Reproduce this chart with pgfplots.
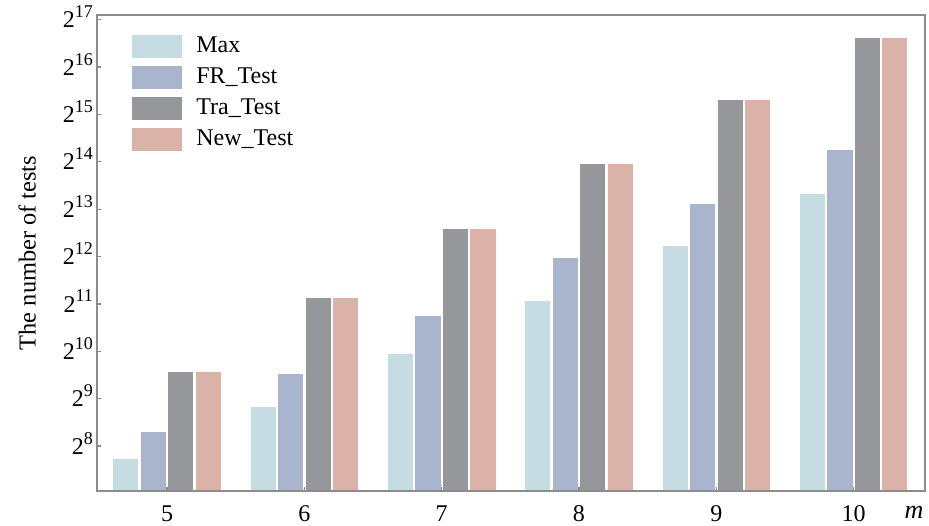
\documentclass[border=0pt]{standalone}
\usepackage{fontspec}
\setmainfont{Liberation Serif}
\usepackage{pgfplots}
\pgfplotsset{compat=1.18}
\definecolor{cmax}{HTML}{C5DCE2}
\definecolor{cfr}{HTML}{A9B5CD}
\definecolor{ctra}{HTML}{96979B}
\definecolor{cnew}{HTML}{DAB2A8}
\definecolor{axgray}{HTML}{8C8C8C}
\newcommand{\sq}[1]{2\raisebox{0.42em}{\fontsize{9}{9}\selectfont #1}}
\begin{document}
\begin{tikzpicture}
\begin{axis}[name=ax,
  width=414pt, height=238pt, scale only axis,
  ymode=log, log basis y=2, log origin=infty,
  ymin=132.5, ymax=140478,
  xmin=4.49, xmax=10.52,
  ybar, bar width=0.19,
  axis on top,
  axis line style={axgray, line width=0.75pt},
  tick style={axgray, line width=0.6pt},
  major tick length=2pt,
  tick align=inside,
  xtick pos=bottom, ytick pos=left,
  xtick={5,6,7,8,9,10},
  xticklabels={5,6,7,8,9,10},
  ytick={256,512,1024,2048,4096,8192,16384,32768,65536,131072},
  yticklabels={\sq{8},\sq{9},\sq{10},\sq{11},\sq{12},\sq{13},\sq{14},\sq{15},\sq{16},\sq{17}},
  minor tick num=0,
  every tick label/.append style={font=\fontsize{12}{14}\selectfont},
  xticklabel style={yshift=-3.5pt, text height=8.2pt, text depth=0pt},
  yticklabel style={xshift=1.5pt, text height=8.1pt, text depth=0pt},
  ylabel={The number of tests},
  every axis y label/.style={at={(axis description cs:-0.0845,0.5)}, rotate=90, anchor=center},
  ylabel style={font=\fontsize{12.2}{14}\selectfont},
  legend style={draw=none, fill=none, at={(rel axis cs:0.035,0.969)}, anchor=north west,
    font=\fontsize{12}{14}\selectfont, row sep=3.5pt,
    nodes={inner xsep=7pt, inner ysep=0pt, text height=9pt, text depth=3pt}},
  legend cell align=left,
  legend image code/.code={\fill[#1,draw=none] (0pt,-5.75pt) rectangle (25pt,5.75pt);},
]
\addplot[fill=cmax, draw=white, line width=0.4pt, bar shift=-0.3] coordinates {(5,212) (6,458) (7,996) (8,2165) (9,4804) (10,10297)};
\addplot[fill=cfr, draw=white, line width=0.4pt, bar shift=-0.1] coordinates {(5,315) (6,739) (7,1734) (8,4040) (9,8964) (10,19756)};
\addplot[fill=ctra, draw=white, line width=0.4pt, bar shift=0.1] coordinates {(5,765) (6,2241) (7,6166) (8,15900) (9,40622) (10,100722)};
\addplot[fill=cnew, draw=white, line width=0.4pt, bar shift=0.3] coordinates {(5,765) (6,2241) (7,6166) (8,15900) (9,40622) (10,100722)};
\legend{Max, FR\_Test, Tra\_Test, New\_Test}
\end{axis}
\node[font=\fontsize{13}{15}\selectfont\itshape, anchor=center] at ([xshift=-5.5pt, yshift=-10.5pt]ax.south east) {m};
\pgfresetboundingbox
\path ([xshift=-48.5pt, yshift=-17pt]ax.south west) rectangle ++(464.5pt,262.5pt);
\end{tikzpicture}
\end{document}
